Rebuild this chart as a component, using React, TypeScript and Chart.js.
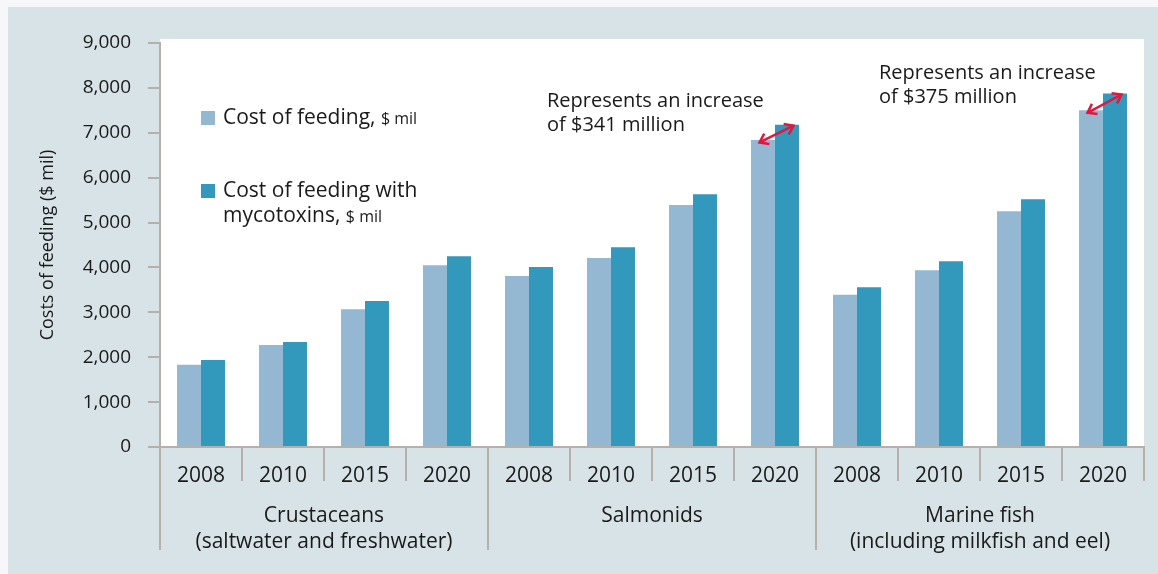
import React, { useEffect, useRef } from 'react';
import { Chart, registerables } from 'chart.js';

Chart.register(...registerables);

const years = ['2008', '2010', '2015', '2020'];
const groupNames: string[][] = [
  ['Crustaceans', '(saltwater and freshwater)'],
  ['Salmonids'],
  ['Marine fish', '(including milkfish and eel)'],
];
const categories: string[] = [...years, ...years, ...years];
const costFeeding = [1830, 2270, 3070, 4050, 3810, 4210, 5390, 6840, 3390, 3940, 5250, 7500];
const costWithMyco = [1940, 2340, 3250, 4250, 4010, 4450, 5630, 7181, 3560, 4140, 5520, 7875];
const yMax = 9000;
const yStep = 1000;
const seriesLabels = ['Cost of feeding,', 'Cost of feeding with'];
const seriesLabels2 = ['', 'mycotoxins,'];
const unitLabel = '$ mil';
const annotations = [
  { index: 7, lines: ['Represents an increase', 'of $341 million'] },
  { index: 11, lines: ['Represents an increase', 'of $375 million'] },
];

const FONT = "'Open Sans', sans-serif";
const LIGHT = '#95b8d2';
const DARK = '#3399bc';
const AXIS = '#b7afaa';
const TEXT = '#1a1a1a';
const RED = '#e3173e';

function drawArrowHead(ctx: CanvasRenderingContext2D, x: number, y: number, ang: number) {
  const len = 10;
  const spread = 0.62;
  ctx.beginPath();
  ctx.moveTo(x - len * Math.cos(ang - spread), y - len * Math.sin(ang - spread));
  ctx.lineTo(x, y);
  ctx.lineTo(x - len * Math.cos(ang + spread), y - len * Math.sin(ang + spread));
  ctx.stroke();
}

const customPlugin = {
  id: 'custom',
  beforeDraw(chart: any) {
    const { ctx, chartArea } = chart;
    ctx.save();
    ctx.fillStyle = '#ffffff';
    ctx.fillRect(chartArea.left, chartArea.top - 4, chartArea.right - chartArea.left, chartArea.bottom - chartArea.top + 4);
    ctx.restore();
  },
  afterDraw(chart: any) {
    const { ctx, chartArea } = chart;
    const xs = chart.scales.x;
    ctx.save();
    // group dividers
    ctx.strokeStyle = AXIS;
    ctx.lineWidth = 2;
    const bounds = [chartArea.left];
    const groupRanges: number[][] = [];
    groupNames.forEach((_, gi) => {
      const s = gi * years.length;
      const e = s + years.length - 1;
      groupRanges.push([s, e]);
      if (gi > 0) bounds.push((xs.getPixelForValue(s - 1) + xs.getPixelForValue(s)) / 2);
    });
    bounds.forEach((bx) => {
      ctx.beginPath();
      ctx.moveTo(bx, chartArea.bottom);
      ctx.lineTo(bx, chartArea.bottom + 103);
      ctx.stroke();
    });
    // group labels
    ctx.fillStyle = TEXT;
    ctx.font = `21px ${FONT}`;
    ctx.textAlign = 'center';
    ctx.textBaseline = 'middle';
    groupNames.forEach((lines, gi) => {
      const [s, e] = groupRanges[gi];
      const cx = (xs.getPixelForValue(s) + xs.getPixelForValue(e)) / 2;
      lines.forEach((ln, li) => {
        ctx.fillText(ln, cx, chartArea.bottom + 69 + li * 26);
      });
    });
    // legend
    const lx = chartArea.left + 41;
    const ly = [chartArea.top + 68, chartArea.top + 141];
    const colors = [LIGHT, DARK];
    ctx.textAlign = 'left';
    seriesLabels.forEach((lab, i) => {
      ctx.fillStyle = colors[i];
      ctx.fillRect(lx, ly[i], 14, 14);
      ctx.fillStyle = TEXT;
      ctx.font = `21px ${FONT}`;
      const ty = ly[i] + 7;
      if (seriesLabels2[i]) {
        ctx.fillText(lab, lx + 22, ty);
        ctx.fillText(seriesLabels2[i], lx + 22, ty + 25);
        const w = ctx.measureText(seriesLabels2[i] + ' ').width;
        ctx.font = `16px ${FONT}`;
        ctx.fillText(unitLabel, lx + 22 + w, ty + 26);
      } else {
        ctx.fillText(lab, lx + 22, ty);
        const w = ctx.measureText(lab + ' ').width;
        ctx.font = `16px ${FONT}`;
        ctx.fillText(unitLabel, lx + 22 + w, ty + 1);
      }
    });
    // annotations and arrows
    const m0 = chart.getDatasetMeta(0);
    const m1 = chart.getDatasetMeta(1);
    annotations.forEach((a, ai) => {
      const b0 = m0.data[a.index];
      const b1 = m1.data[a.index];
      const cx = xs.getPixelForValue(a.index);
      ctx.fillStyle = TEXT;
      ctx.font = `20px ${FONT}`;
      ctx.textAlign = 'left';
      const dx = ai === 0 ? -228 : -224;
      const dy = ai === 0 ? -23 : -20;
      a.lines.forEach((ln, li) => {
        ctx.fillText(ln, cx + dx, b1.y + dy + li * 24);
      });
      const x1 = b0.x - 3.5, y1 = b0.y + 2.5;
      const x2 = b1.x + 6.5, y2 = b1.y + 1;
      ctx.strokeStyle = RED;
      ctx.lineWidth = 2.5;
      ctx.lineCap = 'butt';
      ctx.beginPath();
      ctx.moveTo(x1, y1);
      ctx.lineTo(x2, y2);
      ctx.stroke();
      const ang = Math.atan2(y2 - y1, x2 - x1);
      drawArrowHead(ctx, x2, y2, ang);
      drawArrowHead(ctx, x1, y1, ang + Math.PI);
    });
    ctx.restore();
  },
};

export default function App() {
  const ref = useRef<HTMLCanvasElement | null>(null);
  useEffect(() => {
    let chart: Chart | null = null;
    let cancelled = false;
    const make = () => {
      if (cancelled || !ref.current) return;
      chart = new Chart(ref.current, {
        type: 'bar',
        data: {
          labels: categories,
          datasets: [
            { label: seriesLabels[0] + ' ' + unitLabel, data: costFeeding, backgroundColor: LIGHT, categoryPercentage: 0.585, barPercentage: 1 },
            { label: 'Cost of feeding with mycotoxins, ' + unitLabel, data: costWithMyco, backgroundColor: DARK, categoryPercentage: 0.585, barPercentage: 1 },
          ],
        },
        options: {
          responsive: false,
          animation: false,
          layout: { padding: { top: 36, right: 14, left: 0, bottom: 0 } },
          plugins: { legend: { display: false }, tooltip: { enabled: false } },
          scales: {
            x: {
              grid: { offset: true, drawOnChartArea: false, tickLength: 34, color: AXIS, lineWidth: 2 },
              border: { display: true, color: AXIS, width: 2 },
              ticks: { color: TEXT, font: { family: FONT, size: 21 }, padding: -18, maxRotation: 0, autoSkip: false },
              afterFit: (s: any) => { s.height = 127; },
            },
            y: {
              min: 0,
              max: yMax,
              grid: { drawOnChartArea: false, tickLength: 12, color: AXIS, lineWidth: 2 },
              border: { display: true, color: AXIS, width: 2 },
              ticks: {
                stepSize: yStep,
                color: TEXT,
                padding: 17,
                font: { family: FONT, size: 19 },
                callback: (v: any) => Number(v).toLocaleString('en-US'),
              },
              title: { display: true, text: 'Costs of feeding ($ mil)', color: TEXT, font: { family: FONT, size: 18 }, padding: { top: 29, bottom: 0 } },
              afterFit: (s: any) => { s.width = 152; },
            },
          },
        },
        plugins: [customPlugin],
      });
    };
    (document as any).fonts
      ? Promise.all([
          (document as any).fonts.load(`19px ${FONT}`),
          (document as any).fonts.load(`15px ${FONT}`),
        ]).then(make, make)
      : make();
    return () => {
      cancelled = true;
      if (chart) chart.destroy();
    };
  }, []);
  return (
    <div style={{ position: 'fixed', left: 0, top: 0, width: 1158, height: 574, background: '#f5f7f9', overflow: 'hidden' }}>
      <canvas
        ref={ref}
        width={1150}
        height={567}
        style={{ position: 'absolute', left: 8, top: 7, width: 1150, height: 567, background: '#d8e3e8' }}
      />
    </div>
  );
}
